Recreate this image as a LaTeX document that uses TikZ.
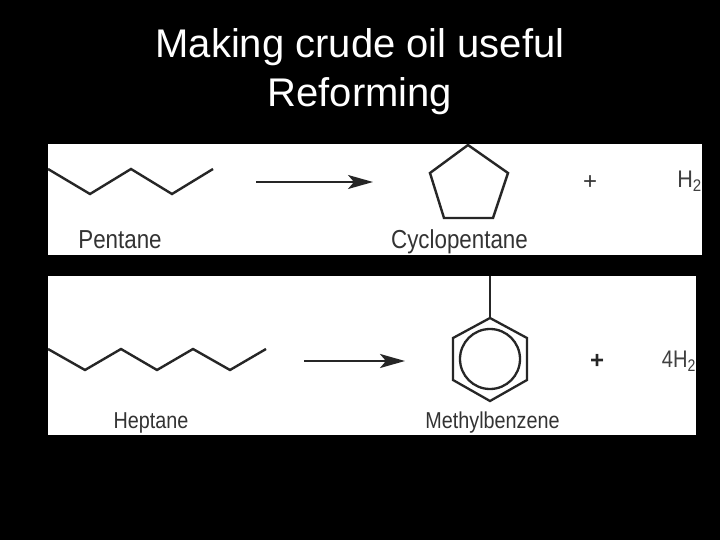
\documentclass[tikz,border=0pt]{standalone}
\usepackage{fontspec}
\setmainfont{Liberation Sans}
\usetikzlibrary{arrows.meta,positioning,calc}
\tikzstyle{panel}=[fill=white,draw=none]
\tikzstyle{bond}=[line width=2.4pt,color=black!85]
\tikzstyle{ring}=[line width=2.3pt,color=black!85]
\tikzstyle{molname}=[text=black!80,font=\fontsize{23}{25}\selectfont,xscale=.86,inner sep=0pt,anchor=base]
\tikzstyle{bigname}=[molname,font=\fontsize{26}{28}\selectfont]
\tikzstyle{arrow}=[color=black!85,-{Stealth[length=25pt,width=14pt,inset=6pt]}]
\tikzstyle{formula}=[text=black!75,font=\fontsize{24}{26}\selectfont,xscale=.9,inner sep=0pt]
\begin{document}
\begin{tikzpicture}[x=1pt,y=-1pt]
\fill[black,use as bounding box] (0,0) rectangle (720,540);
\node (title) [white,align=center,font=\fontsize{40}{49}\selectfont,inner sep=0pt] at (360,72) {Making crude oil useful\\Reforming};
% top panel
\fill[panel] (48,144) rectangle (702,255);
\draw[bond] (48,169)--(90,194)--(131,169)--(172,194)--(213,169);
\draw[bond,line join=miter] (468,145)--(508,173)--(493,218)--(444,218)--(430,173)--cycle;
\coordinate (a1) at (256,182);
\coordinate (a2) at (373,182);
\draw[arrow,line width=1.8pt] (a1)--(a2);
\node (pentane) [bigname] at (120,248) {Pentane};
\node (cyclo) [bigname] at (459.5,248) {Cyclopentane};
\node (plus1) [text=black!80,font=\fontsize{24}{26}\selectfont,inner sep=0pt] at (590,183) {+};
\node (h2) [formula,anchor=east] at (702,181) {H\textsubscript{2}};
% bottom panel
\fill[panel] (48,276) rectangle (696,435);
\draw[bond] (48,349)--(85,370)--(121,349)--(157,370)--(193,349)--(230,370)--(266,349);
\draw[ring] (490,318)--(527,338)--(527,380)--(490,401)--(453,380)--(453,338)--cycle;
\draw[ring] (490,359) circle (30);
\draw[ring] (490,276)--(490,318);
\coordinate (b1) at (304,361);
\coordinate (b2) at (405,361);
\draw[arrow,line width=2.6pt] (b1)--(b2);
\node (heptane) [molname] at (151,428) {Heptane};
\node (methyl) [molname] at (492.5,428) {Methylbenzene};
\node (plus2) [text=black!85,font=\bfseries\fontsize{24}{26}\selectfont,inner sep=0pt] at (597,361) {+};
\node (fourh2) [formula,anchor=east,xscale=.93] at (696,361) {4H\textsubscript{2}};
\end{tikzpicture}
\end{document}
